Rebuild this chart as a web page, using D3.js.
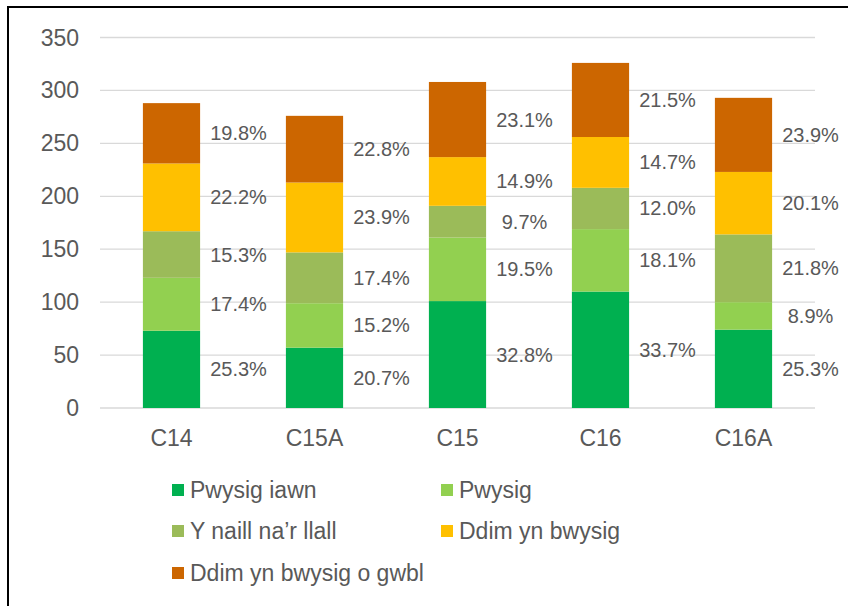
<!DOCTYPE html>
<html>
<head>
<meta charset="utf-8">
<script src="https://cdn.jsdelivr.net/npm/d3@7"></script>
<style>
  body { margin: 0; background: #fff; }
  text { font-family: "Liberation Sans", Arial, sans-serif; fill: #595959; }
</style>
</head>
<body>
<div class="chart"></div>
<script>
// categories and series (counts)
var categories = ["C14", "C15A", "C15", "C16", "C16A"];
var seriesNames = ["Pwysig iawn", "Pwysig", "Y naill na\u2019r llall", "Ddim yn bwysig", "Ddim yn bwysig o gwbl"];
var pwysigIawn = [73, 57, 101, 110, 74];
var pwysig = [50, 42, 60, 59, 26];
var naillNaLlall = [44, 48, 30, 39, 64];
var ddimYnBwysig = [64, 66, 46, 48, 59];
var ddimOGwbl = [57, 63, 71, 70, 70];
var yTicks = [0, 50, 100, 150, 200, 250, 300, 350];
var colors = ["#00b050", "#92d050", "#9bbb59", "#ffc000", "#cc6600"];

var svgWidth = 848, svgHeight = 606;
var margin = { top: 37.5, left: 100, right: 33, bottom: 198 };
var width = svgWidth - margin.left - margin.right;
var height = svgHeight - margin.top - margin.bottom;

var svg = d3.select(".chart").append("svg")
  .attr("width", svgWidth)
  .attr("height", svgHeight);

// outer frame (runs off the right and bottom edge)
svg.append("rect")
  .attr("x", 8).attr("y", 7)
  .attr("width", 900).attr("height", 700)
  .attr("fill", "none")
  .attr("stroke", "#000")
  .attr("stroke-width", 2);

var chartGroup = svg.append("g")
  .attr("transform", `translate(${margin.left}, ${margin.top})`);

var rows = categories.map(function(c, i) {
  return { cat: c, v: [pwysigIawn[i], pwysig[i], naillNaLlall[i], ddimYnBwysig[i], ddimOGwbl[i]] };
});
rows.forEach(function(r) { r.total = d3.sum(r.v); });

var xScale = d3.scaleBand().domain(categories).range([0, width]).paddingInner(0.6).paddingOuter(0.3);
var yScale = d3.scaleLinear().domain([0, 350]).range([height, 0]);

// gridlines
chartGroup.selectAll(".grid")
  .data(yTicks)
  .enter()
  .append("line")
  .attr("x1", 0).attr("x2", width)
  .attr("y1", d => yScale(d)).attr("y2", d => yScale(d))
  .attr("stroke", "#d9d9d9")
  .attr("stroke-width", 1.3);

// y tick labels
chartGroup.selectAll(".ytick")
  .data(yTicks)
  .enter()
  .append("text")
  .attr("x", -21)
  .attr("y", d => yScale(d))
  .attr("dy", "0.35em")
  .attr("text-anchor", "end")
  .attr("font-size", 23)
  .text(d => d);

// x labels
chartGroup.selectAll(".xlabel")
  .data(categories)
  .enter()
  .append("text")
  .attr("x", d => xScale(d) + xScale.bandwidth() / 2)
  .attr("y", height + 38)
  .attr("text-anchor", "middle")
  .attr("font-size", 23)
  .text(d => d);

var pct = d3.format(".1%");

rows.forEach(function(r) {
  var y0 = 0;
  var segs = r.v.map(function(v, k) {
    var s = { k: k, y0: y0, y1: y0 + v, share: v / r.total };
    y0 += v;
    return s;
  });
  var g = chartGroup.append("g");
  g.selectAll("rect")
    .data(segs)
    .enter()
    .append("rect")
    .attr("x", xScale(r.cat))
    .attr("width", xScale.bandwidth())
    .attr("y", d => yScale(d.y1))
    .attr("height", d => yScale(d.y0) - yScale(d.y1))
    .attr("fill", d => colors[d.k]);

  g.selectAll("text")
    .data(segs)
    .enter()
    .append("text")
    .attr("x", xScale(r.cat) + xScale.bandwidth() / 2 + 67)
    .attr("y", d => yScale((d.y0 + d.y1) / 2))
    .attr("dy", "0.35em")
    .attr("text-anchor", "middle")
    .attr("font-size", 20)
    .text(d => pct(d.share));
});

// legend
var legendPos = [[172, 490], [441, 490], [172, 531], [441, 531], [172, 573]];
var legend = svg.selectAll(".legend")
  .data(seriesNames)
  .enter()
  .append("g")
  .attr("transform", (d, i) => `translate(${legendPos[i][0]}, ${legendPos[i][1]})`);

legend.append("rect")
  .attr("x", 0).attr("y", -6)
  .attr("width", 12).attr("height", 12)
  .attr("fill", (d, i) => colors[i]);

legend.append("text")
  .attr("x", 18)
  .attr("y", 0)
  .attr("dy", "0.35em")
  .attr("font-size", 23)
  .text(d => d);
</script>
</body>
</html>
